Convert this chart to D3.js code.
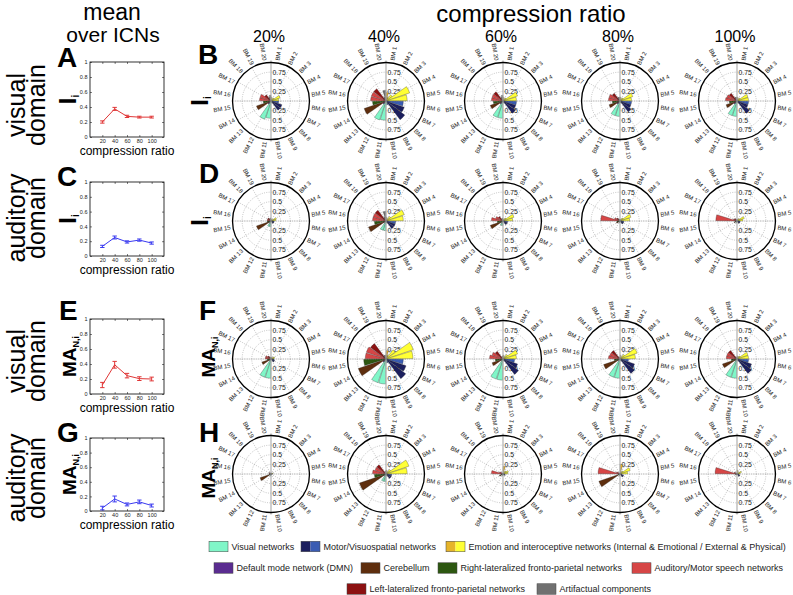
<!DOCTYPE html>
<html><head><meta charset="utf-8">
<script src="https://cdn.jsdelivr.net/npm/d3@7"></script>
<style>body{margin:0;background:#fff}svg{font-family:"Liberation Sans",Arial,sans-serif}</style>
</head><body>
<svg id="c" width="793" height="595"></svg>
<script>
// ---------- data ----------
const ratios = [20, 40, 60, 80, 100];
const ratioLabels = ["20%", "40%", "60%", "80%", "100%"];
const bmLabels = d3.range(1, 21).map(i => "BM " + i);
const bmCategory = ["emoI","emoI","emoE","emoE","emoE","motL","motD","motD","motL","vis",
                    "vis","vis","dmn","cer","rfp","aud","aud","lfp","art","art"];
const radialTicks = [0.25, 0.5, 0.75];
const yTicks = [0, 0.2, 0.4, 0.6, 0.8, 1];

const meanVisI  = [0.20, 0.375, 0.275, 0.265, 0.265];
const errVisI   = [0.015, 0.02, 0.015, 0.012, 0.012];
const meanAudI  = [0.13, 0.25, 0.19, 0.215, 0.175];
const errAudI   = [0.015, 0.02, 0.015, 0.015, 0.015];
const meanVisMA = [0.12, 0.39, 0.245, 0.205, 0.20];
const errVisMA  = [0.035, 0.045, 0.03, 0.025, 0.025];
const meanAudMA = [0.04, 0.165, 0.09, 0.125, 0.075];
const errAudMA  = [0.025, 0.04, 0.02, 0.025, 0.02];

// polar values: one row of 20 BM values per compression ratio
const polarVisI = [
  [0.10,0.05,0.10,0.25,0.20, 0.20,0.30,0.30,0.05,0.05, 0.45,0.50,0.10,0.40,0.20, 0.30,0.30,0.20,0.10,0.15],
  [0.22,0.10,0.20,0.65,0.55, 0.45,0.50,0.61,0.10,0.10, 0.50,0.52,0.10,0.60,0.35, 0.40,0.40,0.40,0.10,0.28],
  [0.10,0.05,0.10,0.40,0.35, 0.35,0.35,0.40,0.05,0.05, 0.45,0.45,0.10,0.35,0.25, 0.30,0.30,0.30,0.10,0.15],
  [0.10,0.05,0.10,0.35,0.30, 0.30,0.30,0.35,0.05,0.05, 0.40,0.40,0.10,0.30,0.20, 0.30,0.30,0.25,0.10,0.10],
  [0.10,0.05,0.10,0.30,0.30, 0.30,0.30,0.40,0.05,0.05, 0.40,0.40,0.10,0.30,0.20, 0.30,0.28,0.25,0.10,0.10]
];
const polarAudI = [
  [0.05,0.03,0.05,0.15,0.12, 0.08,0.08,0.08,0.03,0.03, 0.15,0.15,0.05,0.40,0.10, 0.10,0.10,0.10,0.05,0.08],
  [0.10,0.05,0.15,0.50,0.45, 0.25,0.25,0.25,0.05,0.05, 0.25,0.25,0.05,0.48,0.30, 0.35,0.35,0.35,0.10,0.25],
  [0.05,0.03,0.10,0.30,0.25, 0.12,0.12,0.12,0.03,0.03, 0.12,0.12,0.05,0.35,0.15, 0.30,0.20,0.15,0.05,0.08],
  [0.05,0.03,0.10,0.30,0.25, 0.10,0.10,0.10,0.03,0.03, 0.05,0.05,0.03,0.10,0.08, 0.50,0.15,0.10,0.05,0.05],
  [0.05,0.03,0.08,0.20,0.15, 0.08,0.08,0.08,0.03,0.03, 0.05,0.05,0.03,0.08,0.05, 0.55,0.10,0.08,0.03,0.05]
];
const polarVisMA = [
  [0.05,0.03,0.05,0.10,0.08, 0.08,0.10,0.10,0.03,0.03, 0.50,0.50,0.05,0.25,0.10, 0.15,0.15,0.10,0.05,0.05],
  [0.22,0.10,0.30,0.75,0.70, 0.45,0.55,0.64,0.10,0.10, 0.65,0.65,0.10,0.76,0.58, 0.54,0.54,0.50,0.10,0.10],
  [0.10,0.05,0.15,0.40,0.35, 0.30,0.40,0.50,0.05,0.05, 0.55,0.55,0.05,0.30,0.20, 0.35,0.30,0.25,0.05,0.08],
  [0.10,0.05,0.15,0.47,0.40, 0.22,0.40,0.47,0.05,0.05, 0.50,0.50,0.05,0.45,0.15, 0.30,0.28,0.28,0.05,0.05],
  [0.08,0.05,0.10,0.30,0.30, 0.30,0.40,0.47,0.05,0.05, 0.50,0.50,0.05,0.40,0.15, 0.28,0.28,0.28,0.05,0.05]
];
const polarAudMA = [
  [0.03,0.02,0.03,0.05,0.05, 0.03,0.03,0.03,0.02,0.02, 0.05,0.05,0.02,0.30,0.05, 0.05,0.05,0.05,0.02,0.03],
  [0.10,0.05,0.15,0.63,0.55, 0.15,0.15,0.15,0.05,0.05, 0.20,0.20,0.05,0.73,0.30, 0.35,0.30,0.30,0.05,0.08],
  [0.20,0.03,0.10,0.15,0.12, 0.05,0.05,0.05,0.02,0.02, 0.05,0.05,0.02,0.10,0.05, 0.30,0.10,0.05,0.02,0.03],
  [0.25,0.05,0.10,0.28,0.20, 0.05,0.10,0.10,0.02,0.02, 0.05,0.05,0.02,0.58,0.05, 0.57,0.10,0.05,0.02,0.03],
  [0.10,0.03,0.05,0.12,0.08, 0.05,0.08,0.08,0.02,0.02, 0.03,0.03,0.02,0.05,0.03, 0.57,0.08,0.05,0.02,0.03]
];

const catColor = {
  vis:"#80f6c8", motD:"#1c1f5e", motL:"#3a5cb3", emoI:"#e6b42a", emoE:"#ffff35",
  dmn:"#5a2c90", cer:"#5e2e0e", rfp:"#2d5711", aud:"#d64646", lfp:"#8c1111", art:"#707070"
};
const legendRows = [
  [{c:["vis"], t:"Visual networks", x:209}, {c:["motD","motL"], t:"Motor/Visuospatial networks", x:301},
   {c:["emoI","emoE"], t:"Emotion and interoceptive networks (Internal & Emotional / External & Physical)", x:446}],
  [{c:["dmn"], t:"Default mode network (DMN)", x:214}, {c:["cer"], t:"Cerebellum", x:361},
   {c:["rfp"], t:"Right-lateralized fronto-parietal networks", x:438}, {c:["aud"], t:"Auditory/Motor speech networks", x:632}],
  [{c:["lfp"], t:"Left-lateralized fronto-parietal networks", x:347}, {c:["art"], t:"Artifactual components", x:537}]
];

// ---------- layout ----------
const svg = d3.select("#c");
const colX = [271, 386, 503, 620, 737];
const rowY = [101, 221, 359, 474];
const R = 38.5;

function txt(x, y, s, size, opts = {}) {
  const t = svg.append("text").attr("x", x).attr("y", y).attr("font-size", size)
    .attr("fill", opts.fill || "#000").attr("text-anchor", opts.anchor || "start");
  if (opts.weight) t.attr("font-weight", opts.weight);
  if (opts.rotate != null) t.attr("transform", `rotate(${opts.rotate},${x},${y})`);
  t.text(s);
  return t;
}

// headers
txt(112, 20, "mean", 23, {anchor:"middle"});
txt(113, 42, "over ICNs", 21, {anchor:"middle"});
txt(531, 22, "compression ratio", 24, {anchor:"middle"});
ratioLabels.forEach((l, i) => txt(colX[i] - 2, 42, l, 16, {anchor:"middle"}));

// row labels
const rowLab = [["visual","domain"],["auditory","domain"],["visual","domain"],["auditory","domain"]];
const rowLabY = [105, 218, 361, 478];
rowLab.forEach((p, i) => {
  txt(25, rowLabY[i], p[0], 25, {anchor:"middle", rotate:-90});
  txt(45, rowLabY[i], p[1], 25, {anchor:"middle", rotate:-90});
});

// panel letters
[["A",57,67],["B",198,64],["C",57,186],["D",199,183],["E",59,320],["F",199,320],["G",57,442],["H",199,442]]
  .forEach(d => txt(d[1], d[2], d[0], 28, {weight:"bold"}));

// y labels
function yLabel(x, y, kind) {
  const t = svg.append("text").attr("transform", `translate(${x},${y}) rotate(-90)`)
    .attr("text-anchor", "middle").attr("font-weight", "bold");
  if (kind === "I") {
    t.append("tspan").attr("font-size", 24).text("I");
    t.append("tspan").attr("font-size", 10).attr("dy", 3).text("i");
  } else {
    t.append("tspan").attr("font-size", 19).text("MA");
    t.append("tspan").attr("font-size", 9).attr("dy", 3).text("N,i");
  }
}

// ---------- line plots ----------
const linePlots = [
  {top:62, bot:137, m:meanVisI, e:errVisI, col:"#e03636", lab:"I"},
  {top:182, bot:256, m:meanAudI, e:errAudI, col:"#3a3af0", lab:"I"},
  {top:319, bot:394, m:meanVisMA, e:errVisMA, col:"#e03636", lab:"MA"},
  {top:438, bot:511, m:meanAudMA, e:errAudMA, col:"#3a3af0", lab:"MA"}
];
linePlots.forEach(p => {
  const x = d3.scaleLinear().domain([0, 120]).range([90, 164]);
  const y = d3.scaleLinear().domain([0, 1]).range([p.bot, p.top]);
  const g = svg.append("g");
  g.append("rect").attr("x", 90).attr("y", p.top).attr("width", 74).attr("height", p.bot - p.top)
    .attr("fill", "none").attr("stroke", "#000").attr("stroke-width", 0.8);
  g.append("g").attr("transform", `translate(0,${p.bot})`)
    .call(d3.axisBottom(x).tickValues(ratios).tickSize(-2).tickPadding(2));
  g.append("g").attr("transform", `translate(90,0)`)
    .call(d3.axisLeft(y).tickValues(yTicks).tickSize(-2).tickPadding(2.5).tickFormat(d3.format("~g")));
  g.append("g").attr("transform", `translate(0,${p.top})`)
    .call(d3.axisTop(x).tickValues(ratios).tickSize(-2).tickFormat(""));
  g.append("g").attr("transform", `translate(164,0)`)
    .call(d3.axisRight(y).tickValues(yTicks).tickSize(-2).tickFormat(""));
  g.selectAll(".domain").remove();
  g.selectAll(".tick line").attr("stroke", "#000").attr("stroke-width", 0.5);
  g.selectAll(".tick text").attr("font-size", 5.5).attr("fill", "#222").attr("font-family", "Liberation Sans, Arial, sans-serif");
  const line = d3.line().x((d, i) => x(ratios[i])).y(d => y(d));
  g.append("path").attr("d", line(p.m)).attr("fill", "none").attr("stroke", p.col).attr("stroke-width", 1);
  p.m.forEach((v, i) => {
    const xx = x(ratios[i]);
    g.append("line").attr("x1", xx).attr("x2", xx).attr("y1", y(v - p.e[i])).attr("y2", y(v + p.e[i]))
      .attr("stroke", p.col).attr("stroke-width", 1);
    [v - p.e[i], v + p.e[i]].forEach(w => g.append("line").attr("x1", xx - 2.2).attr("x2", xx + 2.2)
      .attr("y1", y(w)).attr("y2", y(w)).attr("stroke", p.col).attr("stroke-width", 1));
  });
  txt(127, p.bot + 18, "compression ratio", 12, {anchor:"middle"});
  yLabel(76, (p.top + p.bot) / 2, p.lab);
});

// polar y labels
yLabel(208, rowY[0], "I");
yLabel(208, rowY[1], "I");
yLabel(215, rowY[2] - 2, "MA");
yLabel(215, rowY[3] + 4, "MA");

// ---------- polar plots ----------
const rScale = d3.scaleLinear().domain([0, 1]).range([0, R]);
const ang = d3.scaleLinear().domain([0, 20]).range([0, 2 * Math.PI]);
const arc = d3.arc().innerRadius(0);
const halfW = 0.45;

function drawPolar(cx, cy, vals) {
  const g = svg.append("g").attr("transform", `translate(${cx},${cy})`);
  radialTicks.forEach(t => g.append("circle").attr("r", rScale(t)).attr("fill", "none")
    .attr("stroke", "#8a8a8a").attr("stroke-width", 0.5).attr("stroke-dasharray", "1,1.3"));
  d3.range(0, 360, 30).forEach(a => {
    if (a % 180 === 0) return;
    const rad = a * Math.PI / 180;
    g.append("line").attr("x1", 0).attr("y1", 0).attr("x2", R * Math.sin(rad)).attr("y2", -R * Math.cos(rad))
      .attr("stroke", "#8a8a8a").attr("stroke-width", 0.5).attr("stroke-dasharray", "1,1.3");
  });
  radialTicks.forEach(t => {
    [-1, 1].forEach(s => g.append("text").attr("x", 1.5).attr("y", s * rScale(t)).attr("dy", "0.35em")
      .attr("font-size", 6.8).attr("fill", "#222").text(d3.format("~g")(t)));
  });
  vals.forEach((v, i) => {
    g.append("path").attr("d", arc({outerRadius: rScale(v), startAngle: ang(i + 0.5 - halfW), endAngle: ang(i + 0.5 + halfW)}))
      .attr("fill", catColor[bmCategory[i]]).attr("stroke", "#222").attr("stroke-width", 0.3);
  });
  g.append("line").attr("x1", 0).attr("x2", 0).attr("y1", -R - 2).attr("y2", R + 2)
    .attr("stroke", "#b0b0b0").attr("stroke-width", 1.4).attr("opacity", 0.85);
  g.append("line").attr("x1", -R).attr("x2", R).attr("y1", 0).attr("y2", 0)
    .attr("stroke", "#8a8a8a").attr("stroke-width", 0.5).attr("stroke-dasharray", "1,1.3");
  g.append("circle").attr("r", R).attr("fill", "none").attr("stroke", "#000").attr("stroke-width", 1.3);
  bmLabels.forEach((l, i) => {
    const deg = (i + 0.5) * 18;
    const right = deg < 180;
    g.append("text")
      .attr("transform", `rotate(${deg - 90}) translate(${R + 2.5},0)` + (right ? "" : " rotate(180)"))
      .attr("text-anchor", right ? "start" : "end").attr("dy", "0.35em")
      .attr("font-size", 6).attr("fill", "#222").text(l);
  });
}
const polarRows = [polarVisI, polarAudI, polarVisMA, polarAudMA];
polarRows.forEach((rows, r) => rows.forEach((vals, c) => drawPolar(colX[c], rowY[r], vals)));

// ---------- legend ----------
const legY = [546.5, 568, 589];
legendRows.forEach((row, ri) => row.forEach(it => {
  const w = 19, h = 10.5, y0 = legY[ri] - h / 2;
  it.c.forEach((c, k) => svg.append("rect").attr("x", it.x + k * w / it.c.length).attr("y", y0)
    .attr("width", w / it.c.length).attr("height", h).attr("fill", catColor[c]));
  svg.append("rect").attr("x", it.x).attr("y", y0).attr("width", w).attr("height", h)
    .attr("fill", "none").attr("stroke", "#444").attr("stroke-width", 0.5);
  txt(it.x + w + 3.5, legY[ri] + 3.2, it.t, 9, {fill:"#222"});
}));
</script>
</body></html>
